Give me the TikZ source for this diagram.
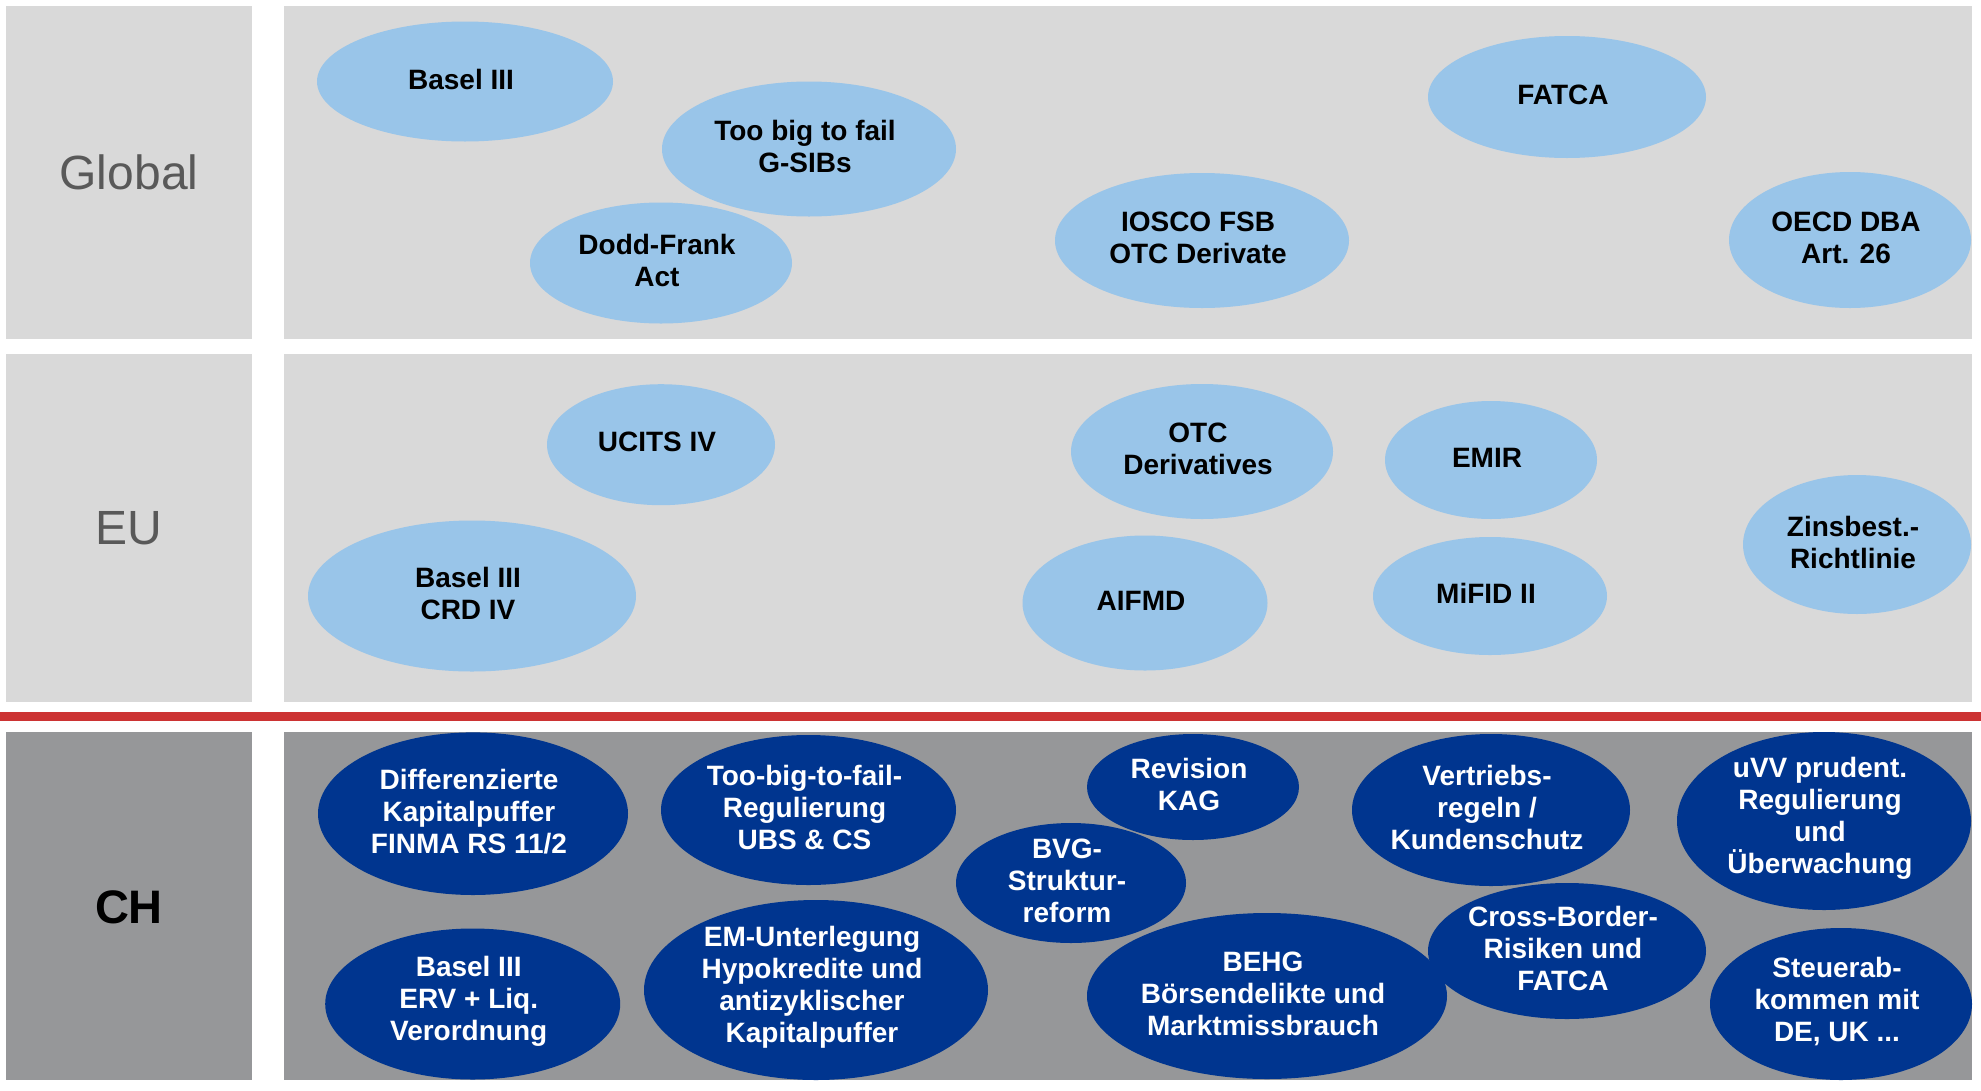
\documentclass[tikz,border=0pt]{standalone}
\usepackage{fontspec}
\setmainfont{Liberation Sans}
\usetikzlibrary{shapes.geometric}

\definecolor{bandlight}{RGB}{217,217,217}
\definecolor{banddark}{RGB}{150,151,153}
\definecolor{bubblelight}{RGB}{153,197,233}
\definecolor{bubblenavy}{RGB}{0,53,143}
\definecolor{rulered}{RGB}{204,51,51}
\definecolor{labelgray}{RGB}{89,89,89}

\tikzset{
  bubbletext/.style={inner sep=0pt, align=center, xshift=-4pt, yshift=2.5pt,
    font=\fontsize{28}{32}\selectfont\bfseries},
  bubble/.style={ellipse, inner sep=0pt},
  intl/.style={bubble, fill=bubblelight,
    label={[bubbletext, text=black]center:#1}},
  swiss/.style={bubble, fill=bubblenavy,
    label={[bubbletext, text=white]center:#1}},
  rad/.style 2 args={minimum width=2*#1, minimum height=2*#2},
  levellabel/.style={inner sep=0pt, font=\fontsize{48}{56}\selectfont, text=labelgray}
}

\begin{document}
\begin{tikzpicture}[x=1pt,y=-1pt]
\useasboundingbox (0,0) rectangle (1981,1090);

% level bands
\fill[bandlight] (6,6) rectangle (252,339);
\fill[bandlight] (284,6) rectangle (1972,339);
\fill[bandlight] (6,354) rectangle (252,702);
\fill[bandlight] (284,354) rectangle (1972,702);
\fill[banddark] (6,732) rectangle (252,1080);
\fill[banddark] (284,732) rectangle (1972,1080);

% separator between international and Swiss level
\fill[rulered] (0,712) rectangle (1981,721);

% level names
\node[levellabel] (lglobal) at (129,172.5) {Global};
\node[levellabel] (leu) at (129,528) {EU};
\node[levellabel, text=black, font=\fontsize{47}{56}\selectfont\bfseries] (lch) at (129,907) {CH};

% global
\node[intl={Basel III}, rad={148}{60}] (baselg) at (465,81.5) {};
\node[intl={Too big to fail\\G-SIBs}, rad={147}{67.5}] (tbtf) at (809,149) {};
\node[intl={Dodd-Frank\\Act}, rad={131}{60.5}] (doddfrank) at (661,263) {};
\node[intl={IOSCO FSB\\OTC Derivate}, rad={147}{67.5}] (iosco) at (1202,240.5) {};
\node[intl={FATCA}, rad={139}{61}] (fatca) at (1567,97) {};
\node[intl={OECD DBA\\Art. 26}, rad={121}{68}] (oecd) at (1850,240) {};

% EU
\node[intl={UCITS IV}, rad={114}{60.5}] (ucits) at (661,444.7) {};
\node[intl={Basel III\\CRD IV}, rad={164}{75.5}] (crd) at (472,596) {};
\node[intl={OTC\\Derivatives}, rad={131}{67.5}] (otcd) at (1202,451.5) {};
\node[intl={EMIR}, rad={106}{59}] (emir) at (1491,460) {};
\node[intl={AIFMD}, rad={122.5}{67.5}] (aifmd) at (1145,603) {};
\node[intl={MiFID II}, rad={117}{59}] (mifid) at (1490,596) {};
\node[intl={Zinsbest.-\\Richtlinie}, rad={114}{69.5}] (zins) at (1857,544.5) {};

% Switzerland
\node[swiss={Differenzierte\\Kapitalpuffer\\FINMA RS 11/2}, rad={155}{81.3}] (kappuffer) at (473,813.7) {};
\node[swiss={Too-big-to-fail-\\Regulierung\\UBS \& CS}, rad={147.5}{75}] (tbtfreg) at (808.5,810) {};
\node[swiss={Revision\\KAG}, rad={106}{53}] (kag) at (1193,787) {};
\node[swiss={BVG-\\Struktur-\\reform}, rad={115}{60}] (bvg) at (1071,883) {};
\node[swiss={Vertriebs-\\regeln /\\Kundenschutz}, rad={139}{76}] (vertrieb) at (1491,810) {};
\node[swiss={uVV prudent.\\Regulierung\\und\\Überwachung}, rad={147}{89}] (uvv) at (1824,821) {};
\node[swiss={Basel III\\ERV + Liq.\\Verordnung}, rad={147.5}{75.5}] (erv) at (472.7,1004) {};
\node[swiss={EM-Unterlegung\\Hypokredite und\\antizyklischer\\Kapitalpuffer}, rad={172}{90}] (emunter) at (816,990) {};
\node[swiss={BEHG\\Börsendelikte und\\Marktmissbrauch}, rad={180}{83}] (behg) at (1267,996) {};
\node[swiss={Cross-Border-\\Risiken und\\FATCA}, rad={139}{68}] (crossb) at (1567,951) {};
\node[swiss={Steuerab-\\kommen mit\\DE, UK ...}, rad={131}{76}] (steuer) at (1841,1004) {};
\end{tikzpicture}
\end{document}
